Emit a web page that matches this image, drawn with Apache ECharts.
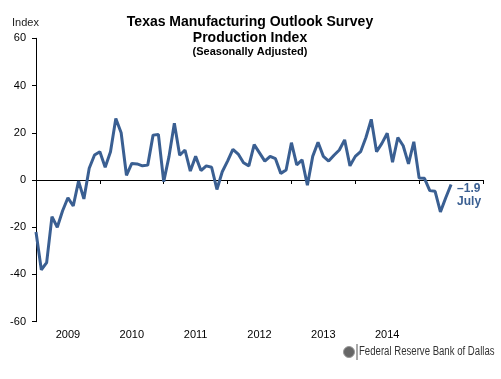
<!DOCTYPE html>
<html>
<head>
<meta charset="utf-8">
<script src="https://cdn.jsdelivr.net/npm/echarts@6/dist/echarts.min.js"></script>
<style>
html,body{margin:0;padding:0;background:#fff;}
#chart{width:501px;height:379px;}
</style>
</head>
<body>
<div id="chart"></div>
<script>
// Monthly values, Jan 2009 .. Jul 2015
const values = [
  -22, -38, -35, -15.5, -20, -13, -7.5, -11, -0.5, -8, 5, 10.6,
  12, 5.4, 12, 26, 20, 2, 7, 6.8, 6, 6.3, 19, 19.3,
  -0.7, 10, 24, 10.5, 12.7, 3.8, 10, 4, 6, 5.4, -4, 3.5,
  8, 13, 11, 7.3, 6, 15, 11.5, 8, 10, 9, 2.8, 4.2,
  15.8, 6.4, 8.5, -2.2, 10, 16, 10, 8, 10.5, 12.7, 17, 6,
  10, 12, 18, 25.7, 12, 15.5, 19.8, 7.5, 18, 14.5, 6.8, 16.2,
  0.8, 0.7, -4.5, -4.8, -13.5, -7.5, -1.9
];
const yearLabels = ['2009','2010','2011','2012','2013','2014',''];
const yTicks = [-60, -40, -20, 0, 20, 40, 60];
const lastLabel = ['\u20131.9', 'July'];

const lineColor = '#3a5f92';
const seriesData = values.map((v, i) => [i, v]);

const chart = echarts.init(document.getElementById('chart'), null, {renderer: 'canvas'});
chart.setOption({
  animation: false,
  backgroundColor: '#fff',
  textStyle: {fontFamily: 'Liberation Sans, Arial, sans-serif'},
  title: [
    {text: 'Texas Manufacturing Outlook Survey', left: 245, top: 10, textAlign: 'center',
     textStyle: {fontSize: 14, fontWeight: 'bold', color: '#000'}},
    {text: 'Production Index', left: 245, top: 26, textAlign: 'center',
     textStyle: {fontSize: 14, fontWeight: 'bold', color: '#000'}},
    {text: '(Seasonally Adjusted)', left: 245, top: 41, textAlign: 'center',
     textStyle: {fontSize: 11, fontWeight: 'bold', color: '#000'}}
  ],
  grid: {left: 36, right: 18, top: 38.3, bottom: 57.3, containLabel: false},
  xAxis: [
    {type: 'value', min: 0, max: 84, interval: 12,
     axisLine: {show: true, onZero: true, lineStyle: {color: '#000', width: 1}},
     axisTick: {show: true, inside: false, length: 4, lineStyle: {color: '#000'}},
     axisLabel: {show: false}, splitLine: {show: false}},
    {type: 'category', data: yearLabels, boundaryGap: true, position: 'bottom',
     axisLine: {show: false, onZero: false}, axisTick: {show: false}, splitLine: {show: false},
     axisLabel: {show: true, fontSize: 11, color: '#000', margin: 8}}
  ],
  yAxis: {
    type: 'value', min: yTicks[0], max: yTicks[yTicks.length - 1], interval: 20,
    axisLine: {show: true, lineStyle: {color: '#000', width: 1}},
    axisTick: {show: true, length: 4, lineStyle: {color: '#000'}},
    axisLabel: {fontSize: 11, color: '#000', margin: 10},
    splitLine: {show: false}
  },
  series: [{
    type: 'line', xAxisIndex: 0, data: seriesData, showSymbol: false, symbol: 'none',
    lineStyle: {color: lineColor, width: 3}, itemStyle: {color: lineColor},
    endLabel: {
      show: true, distance: 6, offset: [0, 11],
      formatter: lastLabel.join('\n'),
      color: lineColor, fontWeight: 'bold', fontSize: 12, lineHeight: 13,
      fontFamily: 'Liberation Sans, Arial, sans-serif'
    }
  }],
  graphic: [
    {type: 'text', left: 12, top: 17, style: {text: 'Index', fontSize: 11, fill: '#222',
      fontFamily: 'Liberation Sans, Arial, sans-serif'}},
    {type: 'circle', shape: {cx: 349, cy: 352, r: 5.5}, style: {fill: '#666', stroke: '#999', lineWidth: 1}},
    {type: 'line', shape: {x1: 357, y1: 344, x2: 357, y2: 360}, style: {stroke: '#555', lineWidth: 1}},
    {type: 'text', x: 359, y: 346, scaleX: 0.8, style: {text: 'Federal Reserve Bank of Dallas', fontSize: 12, fill: '#333',
      fontFamily: 'Liberation Sans, Arial, sans-serif'}}
  ]
});
</script>
</body>
</html>
